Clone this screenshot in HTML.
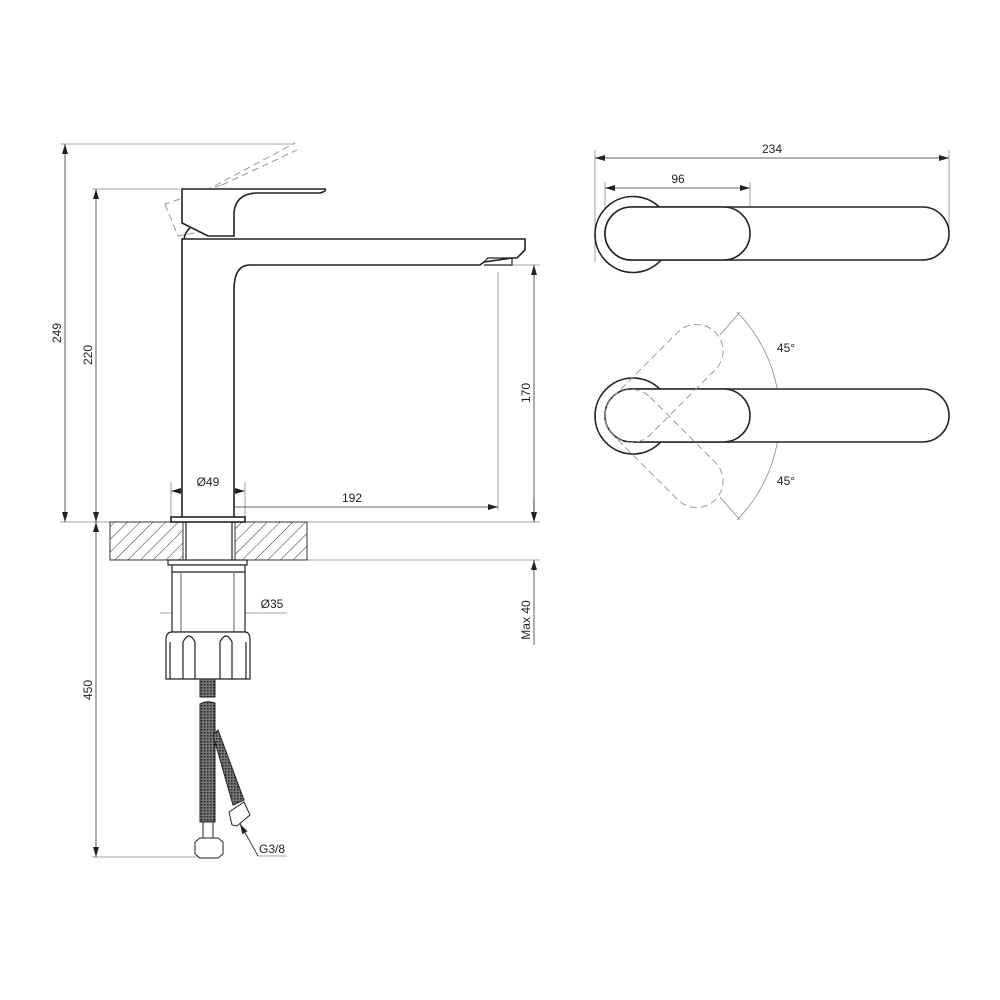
<!DOCTYPE html>
<html><head><style>body{margin:0;background:#fff}svg{display:block}text{font-family:"Liberation Sans",sans-serif;font-size:12px;fill:#222}</style></head>
<body>
<svg width="1000" height="1000" viewBox="0 0 1000 1000" xmlns="http://www.w3.org/2000/svg">
<defs>
<pattern id="h" width="9" height="9" patternUnits="userSpaceOnUse" patternTransform="rotate(45)"><line x1="0" y1="0" x2="0" y2="9" stroke="#333" stroke-width="1"/></pattern>
<pattern id="k" width="3" height="3" patternUnits="userSpaceOnUse"><rect width="3" height="3" fill="#777"/><rect width="1.5" height="1.5" fill="#222"/></pattern>
<marker id="a" markerWidth="10" markerHeight="6" refX="10" refY="3" orient="auto" markerUnits="userSpaceOnUse"><path d="M0,0 L10,3 L0,6 z" fill="#222"/></marker>
</defs>
<g stroke="#888" stroke-width="0.8" fill="none">
<!-- extension lines -->
<line x1="60" y1="144" x2="295" y2="144"/>
<line x1="92" y1="189" x2="180" y2="189"/>
<line x1="60" y1="522" x2="110" y2="522"/>
<line x1="307" y1="522" x2="540" y2="522"/>
<line x1="307" y1="560" x2="540" y2="560"/>
<line x1="92" y1="857" x2="200" y2="857"/>
<line x1="490" y1="265" x2="540" y2="265"/>
<line x1="498" y1="272" x2="498" y2="510"/>
<line x1="171" y1="482" x2="171" y2="517"/>
<line x1="245" y1="482" x2="245" y2="517"/>
<line x1="160" y1="613" x2="287" y2="613"/>
<line x1="595" y1="150" x2="595" y2="262"/>
<line x1="949" y1="150" x2="949" y2="240"/>
<line x1="605" y1="182" x2="605" y2="230"/>
<line x1="750" y1="182" x2="750" y2="232"/>
<line x1="240" y1="823" x2="258" y2="856"/><line x1="258" y1="856" x2="287" y2="856"/>
<line x1="720" y1="335" x2="740" y2="312"/>
<line x1="720" y1="497" x2="740" y2="520"/>
<line x1="755" y1="416" x2="783" y2="416"/>
<path d="M737,312 A148,148 0 0 1 737,520"/>
</g>
<g stroke="#333" stroke-width="0.8" fill="none" marker-end="url(#a)">
<line x1="65" y1="333" x2="65" y2="144"/><line x1="65" y1="333" x2="65" y2="522"/>
<line x1="96" y1="355" x2="96" y2="189"/><line x1="96" y1="355" x2="96" y2="522"/>
<line x1="96" y1="690" x2="96" y2="522"/><line x1="96" y1="690" x2="96" y2="857"/>
<line x1="534" y1="393" x2="534" y2="265"/><line x1="534" y1="393" x2="534" y2="522"/>
<line x1="534" y1="500" x2="534" y2="522"/><line x1="534" y1="645" x2="534" y2="560"/>
<line x1="208" y1="491" x2="171" y2="491"/><line x1="208" y1="491" x2="245" y2="491"/>
<line x1="352" y1="507" x2="207" y2="507"/><line x1="352" y1="507" x2="498" y2="507"/>
<line x1="772" y1="158" x2="595" y2="158"/><line x1="772" y1="158" x2="949" y2="158"/>
<line x1="678" y1="188" x2="605" y2="188"/><line x1="678" y1="188" x2="750" y2="188"/>
<line x1="776" y1="395" x2="776" y2="409"/><line x1="776" y1="437" x2="776" y2="423"/>
<line x1="240" y1="600" x2="232" y2="613"/>
<line x1="258" y1="856" x2="240" y2="824"/>
</g>
<!-- dashed lever -->
<g stroke="#999" stroke-width="1" fill="none" stroke-dasharray="7,4">
<path d="M165,204 L178,236 L232,226 L222,185 Z"/>
<line x1="205" y1="191" x2="295" y2="143"/>
<line x1="222" y1="185" x2="297" y2="150"/>
</g>
<!-- counter -->
<rect x="110" y="522" width="73" height="38" fill="url(#h)" stroke="#333"/>
<rect x="235" y="522" width="72" height="38" fill="url(#h)" stroke="#333"/>
<g stroke="#222" stroke-width="1.6" fill="#fff">
<path d="M182,522 L182,239 L525,239 L525,250 L517,258 L512,258 L484,262 L480,265 L250,265 Q234,265 234,290 L234,522"/>
<path d="M182,189 L182,223 L208,236 L234,236 L234,212 Q236,194 256,193 L320,193 Q327,191 325,189 Z"/>
<path d="M184,239 Q185,232 190,228" fill="none"/>
<path d="M484,262 L488,258 L512,258 L512,265 L484,265" fill="none" stroke-width="1.2"/>
<rect x="171" y="517" width="74" height="5"/>
</g>
<g stroke="#222" stroke-width="1.2" fill="#fff">
<line x1="186" y1="522" x2="186" y2="560"/><line x1="232" y1="522" x2="232" y2="560"/>
<rect x="168" y="560" width="79" height="5"/>
<rect x="172" y="565" width="73" height="67"/>
<line x1="172" y1="572" x2="245" y2="572"/>
<line x1="181" y1="572" x2="181" y2="632" stroke="#777"/><line x1="234" y1="572" x2="234" y2="632" stroke="#777"/>
<path d="M166,679 L166,640 Q166,632 172,632 L245,632 Q250,632 250,640 L250,679 Z"/>
<path d="M170,679 L170,642 M246,679 L246,642" fill="none"/>
<path d="M183,679 L183,642 Q189,630 195,642 L195,679" fill="none"/>
<path d="M220,679 L220,642 Q226,630 232,642 L232,679" fill="none"/>
</g>
<!-- hoses -->
<g stroke="#222" stroke-width="1">
<rect x="200" y="679" width="15" height="18" fill="url(#k)"/>
<path d="M200,704 Q207,700 215,703 L215,822 L200,822 Z" fill="url(#k)"/>
<path d="M213,735 L218,730 L244,800 L233,805 Z" fill="url(#k)"/>
<rect x="203" y="822" width="10" height="16" fill="#fff"/>
<path d="M195,842 L200,838 L218,838 L223,842 L223,854 L218,858 L200,858 L195,854 Z" fill="#fff"/>
<path d="M229,812 L244,802 L250,815 L237,826 L232,825 Z" fill="#fff"/>
</g>
<!-- top view handle -->
<g stroke="#222" stroke-width="1.6" fill="#fff">
<circle cx="633" cy="234.5" r="38"/>
<rect x="605" y="207" width="344" height="53" rx="26.5"/>
<rect x="605" y="207" width="145" height="53" rx="26.5"/>
<circle cx="633" cy="416" r="38"/>
<rect x="605" y="389" width="344" height="53" rx="26.5"/>
<rect x="605" y="389" width="145" height="53" rx="26.5"/>
</g>
<g stroke="#999" stroke-width="1" fill="none" stroke-dasharray="7,4">
<rect x="605" y="389.5" width="145" height="53" rx="26.5" transform="rotate(-45 631.5 416)"/>
<rect x="605" y="389.5" width="145" height="53" rx="26.5" transform="rotate(45 631.5 416)"/>
</g>
<!-- labels -->
<text x="61" y="333" text-anchor="middle" transform="rotate(-90 61 333)">249</text>
<text x="92" y="355" text-anchor="middle" transform="rotate(-90 92 355)">220</text>
<text x="92" y="690" text-anchor="middle" transform="rotate(-90 92 690)">450</text>
<text x="530" y="393" text-anchor="middle" transform="rotate(-90 530 393)">170</text>
<text x="530" y="620" text-anchor="middle" transform="rotate(-90 530 620)">Max 40</text>
<text x="208" y="486" text-anchor="middle">Ø49</text>
<text x="352" y="502" text-anchor="middle">192</text>
<text x="272" y="608" text-anchor="middle">Ø35</text>
<text x="272" y="853" text-anchor="middle">G3/8</text>
<text x="772" y="153" text-anchor="middle">234</text>
<text x="678" y="183" text-anchor="middle">96</text>
<text x="786" y="352" text-anchor="middle">45°</text>
<text x="786" y="485" text-anchor="middle">45°</text>
</svg>
</body></html>
